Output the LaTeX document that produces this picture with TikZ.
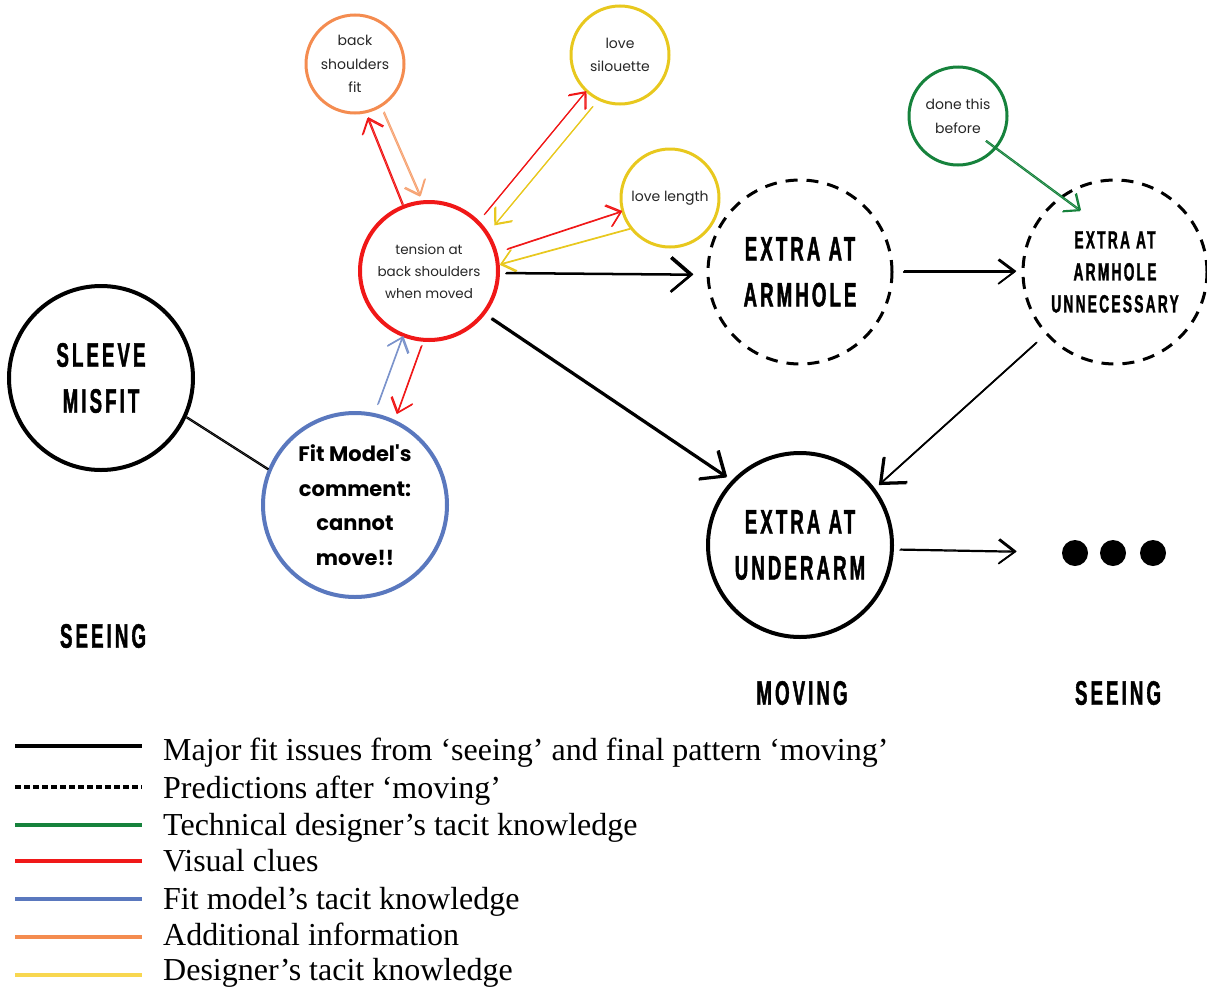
\documentclass[tikz,border=0pt]{standalone}
\usepackage{fontspec}
\usetikzlibrary{arrows.meta,calc}
\setmainfont{Liberation Serif}
\newfontfamily\poppins{Poppins}
\newfontfamily\heading[FakeStretch=0.55,LetterSpace=9,FakeBold=1.2]{Liberation Sans}

\definecolor{cred}{RGB}{240,24,24}
\definecolor{corange}{RGB}{244,140,80}
\definecolor{cyellow}{RGB}{232,200,30}
\definecolor{cyellowlight}{RGB}{248,215,80}
\definecolor{cgreen}{RGB}{22,130,60}
\definecolor{cblue}{RGB}{90,120,190}

\tikzset{
  bigc/.style={circle, draw=black, line width=4pt, minimum size=184pt, inner sep=0pt,
    align=center, font=\heading\bfseries\fontsize{34}{46}\selectfont},
  dashc/.style={bigc, dash pattern=on 12pt off 9pt, line width=3pt},
  smallc/.style={circle, line width=3pt, minimum size=98pt, inner sep=0pt,
    align=center, text=black!85, font=\poppins\fontsize{14}{23.5}\selectfont},
  label/.style={font=\heading\bfseries\fontsize{34}{40}\selectfont},
  conn/.style={line width=1.1pt, line cap=round,
    -{Straight Barb[length=13pt,width=22pt,line width=1.3pt]},
    postaction={draw, transform canvas={shift={(0.9pt,0.9pt)}}}},
  bigconn/.style={conn, line width=1.6pt,
    -{Straight Barb[length=20pt,width=34pt,line width=2.4pt]}},
  plainconn/.style={line width=1.1pt, postaction={draw, transform canvas={shift={(0.9pt,0.9pt)}}}},
  legline/.style={line width=4pt},
  legtext/.style={anchor=base west, font=\fontsize{32}{34}\selectfont, inner sep=0pt},
  dotc/.style={circle, fill=black, minimum size=26pt, inner sep=0pt}
}

\begin{document}
\begin{tikzpicture}[x=1pt,y=-1pt]
\useasboundingbox (0,0) rectangle (1207,988);

% main issue nodes
\node[bigc] (misfit) at (101,378) {SLEEVE\\MISFIT};
\node[bigc, draw=cblue, font=\poppins\bfseries\fontsize{21}{34.5}\selectfont] (fit) at (355,505)
  {Fit Model's\\comment:\\cannot\\move!!};
\node[smallc, draw=cred, line width=4pt, minimum size=138pt, font=\poppins\fontsize{13.5}{22}\selectfont]
  (tension) at (429,271) {tension at\\back shoulders\\when moved};
\node[smallc, draw=corange] (backfit) at (355,64) {back\\shoulders\\fit};
\node[smallc, draw=cyellow] (silouette) at (620,55) {love\\silouette};
\node[smallc, draw=cyellow] (length) at (670,198) {love length};
\node[smallc, draw=cgreen] (done) at (958,116) {done this\\before};

\node[dashc] (armhole) at (800,272) {EXTRA AT\\ARMHOLE};
\node[dashc, font=\heading\bfseries\fontsize{25}{32}\selectfont] (unnec) at (1115,272)
  {EXTRA AT\\ARMHOLE\\UNNECESSARY};
\node[bigc] (underarm) at (800,545) {EXTRA AT\\UNDERARM};

\node[dotc] (dot1) at (1075,553) {};
\node[dotc] (dot2) at (1113,553) {};
\node[dotc] (dot3) at (1153,553) {};

% stage labels
\node[label] (seeing1) at (103,636) {SEEING};
\node[label] (moving) at (802,693) {MOVING};
\node[label] (seeing2) at (1118,693) {SEEING};

% connectors
\draw[plainconn] (misfit.-25) -- (fit.158);
\draw[conn, cblue!80, shorten <=9pt] (fit.78) -- (tension.248);
\draw[conn, cred, shorten <=5pt, shorten >=6pt] (tension.265) -- (fit.65);
\draw[conn, cred, shorten >=5pt] (tension.112) -- (backfit.-78);
\draw[conn, corange!80, shorten <=6pt, shorten >=4pt] (backfit.-59) -- (tension.96);
\draw[conn, cred, shorten <=8pt] (tension.45) -- (silouette.227);
\draw[conn, cyellow, shorten <=9pt, shorten >=9pt] (silouette.244) -- (tension.33);
\draw[conn, cred, shorten <=10pt] (tension.15) -- (length.196);
\draw[conn, cyellow] (length.218) -- (tension.5);
\draw[bigconn, shorten <=6pt, shorten >=14pt] (tension.-2) -- (armhole.182);
\draw[bigconn, line width=2pt, shorten <=8pt, shorten >=6pt] (tension.-38) -- (underarm.137);
\draw[conn, line width=1.3pt, -{Straight Barb[length=16pt,width=24pt,line width=1.6pt]},
  shorten <=10pt, shorten >=6pt] (armhole.0) -- (unnec.180);
\draw[conn, cgreen, shorten <=-13pt, shorten >=-25pt] (done.-41) -- (unnec.126);
\draw[bigconn, shorten <=13pt, shorten >=5pt] (unnec.222) -- (underarm.37);
\draw[conn, line width=1.3pt, -{Straight Barb[length=16pt,width=24pt,line width=1.6pt]},
  shorten <=6pt, shorten >=46pt] (underarm.-3) -- (dot1.west);

% legend
\coordinate (l1a) at (15,746); \coordinate (l1b) at (142,746);
\coordinate (l2a) at (15,787); \coordinate (l2b) at (142,787);
\coordinate (l3a) at (15,825); \coordinate (l3b) at (142,825);
\coordinate (l4a) at (15,861); \coordinate (l4b) at (142,861);
\coordinate (l5a) at (15,899); \coordinate (l5b) at (142,899);
\coordinate (l6a) at (15,937); \coordinate (l6b) at (142,937);
\coordinate (l7a) at (15,975); \coordinate (l7b) at (142,975);
\draw[legline, black] (l1a) -- (l1b);
\draw[legline, black, dash pattern=on 6pt off 3pt] (l2a) -- (l2b);
\draw[legline, cgreen] (l3a) -- (l3b);
\draw[legline, cred] (l4a) -- (l4b);
\draw[legline, cblue] (l5a) -- (l5b);
\draw[legline, corange] (l6a) -- (l6b);
\draw[legline, cyellowlight] (l7a) -- (l7b);
\node[legtext] (t1) at (163,760) {Major fit issues from ‘seeing’ and final pattern ‘moving’};
\node[legtext] (t2) at (163,798) {Predictions after ‘moving’};
\node[legtext] (t3) at (163,835) {Technical designer’s tacit knowledge};
\node[legtext] (t4) at (163,871) {Visual clues};
\node[legtext] (t5) at (163,909) {Fit model’s tacit knowledge};
\node[legtext] (t6) at (163,945) {Additional information};
\node[legtext] (t7) at (163,980) {Designer’s tacit knowledge};
\end{tikzpicture}
\end{document}
